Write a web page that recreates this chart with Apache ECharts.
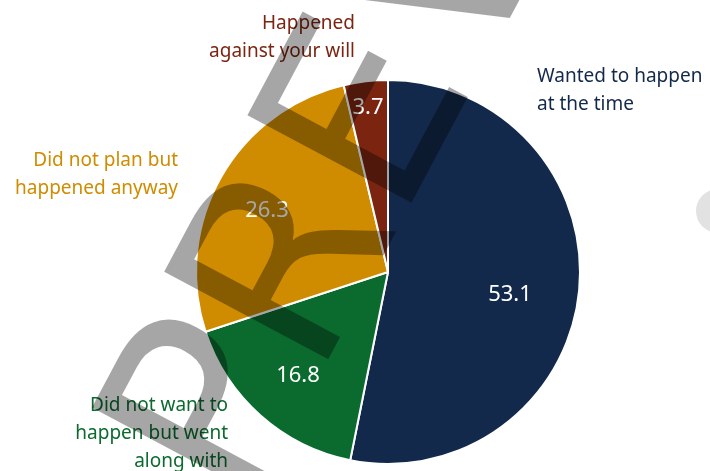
<!DOCTYPE html>
<html>
<head>
<meta charset="utf-8">
<script src="https://cdn.jsdelivr.net/npm/echarts@6/dist/echarts.min.js"></script>
<style>
  html, body { margin: 0; padding: 0; background: #fff; }
  #chart { width: 710px; height: 471px; }
</style>
</head>
<body>
<div id="chart"></div>
<script>
  // data
  const categories = [
    'Wanted to happen\nat the time',
    'Did not want to\nhappen but went\nalong with',
    'Did not plan but\nhappened anyway',
    'Happened\nagainst your will'
  ];
  const values = [53.1, 16.8, 26.3, 3.7];
  const colors = ['#13294b', '#0b6b2e', '#d08c00', '#7b2511'];

  // where the labels sit (style, not data)
  const valuePos = [[510, 295], [298, 376], [267, 211], [368, 108]];
  const namePos = [
    { x: 537, y: 91, align: 'left' },
    { x: 228, y: 434, align: 'right' },
    { x: 178, y: 175, align: 'right' },
    { x: 355, y: 38, align: 'right' }
  ];

  const chart = echarts.init(document.getElementById('chart'));
  const center = [388, 272];
  const radius = 192;
  const font = '"Noto Sans", sans-serif';

  const option = {
    backgroundColor: '#fff',
    animation: false,
    series: [
      {
        type: 'pie',
        center: center,
        radius: radius,
        startAngle: 90,
        clockwise: true,
        silent: true,
        itemStyle: { borderColor: '#fff', borderWidth: 2 },
        label: {
          show: true,
          position: 'inside',
          color: '#fff',
          fontSize: 22,
          fontFamily: font,
          formatter: function (p) { return p.value.toFixed(1); }
        },
        labelLayout: function (p) {
          const pos = valuePos[p.dataIndex];
          return { x: pos[0], y: pos[1], align: 'center', verticalAlign: 'middle' };
        },
        data: categories.map(function (c, i) {
          return { name: c, value: values[i], itemStyle: { color: colors[i] } };
        })
      },
      {
        // invisible copy that only carries the category labels
        type: 'pie',
        center: center,
        radius: radius,
        startAngle: 90,
        clockwise: true,
        silent: true,
        itemStyle: { color: 'rgba(0,0,0,0)', borderWidth: 0 },
        label: {
          show: true,
          position: 'outside',
          alignTo: 'none',
          overflow: 'none',
          width: 300,
          fontSize: 19,
          lineHeight: 28,
          fontFamily: font,
          formatter: '{b}'
        },
        labelLine: { show: false },
        labelLayout: function (p) {
          const pos = namePos[p.dataIndex];
          return { x: pos.x, y: pos.y, align: pos.align, verticalAlign: 'middle', hideOverlap: false };
        },
        data: categories.map(function (c, i) {
          return { name: c, value: values[i], label: { color: colors[i], align: namePos[i].align } };
        })
      }
    ],
    graphic: [
      {
        type: 'circle',
        silent: true,
        shape: { cx: 718, cy: 211, r: 22 },
        style: { fill: '#e2e2e2' }
      },
      {
        // watermark
        type: 'text',
        z: 100,
        silent: true,
        x: 457,
        y: -24,
        rotation: 62 * Math.PI / 180,
        style: {
          text: 'PREVIEW',
          fontSize: 255,
          fontFamily: '"DejaVu Sans", sans-serif',
          fontWeight: 'normal',
          fill: 'rgba(0,0,0,0.35)',
          align: 'center',
          verticalAlign: 'middle'
        }
      }
    ]
  };
  chart.setOption(option);
</script>
</body>
</html>
